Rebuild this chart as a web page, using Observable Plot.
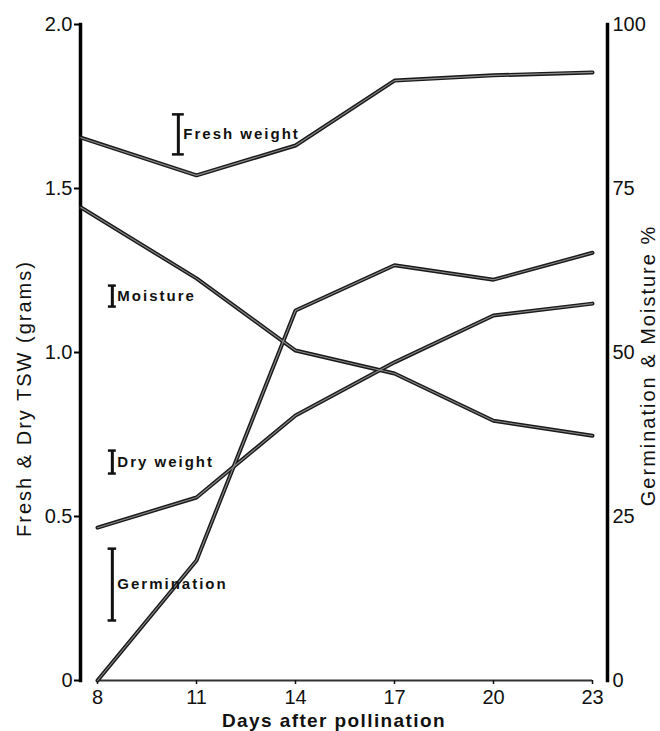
<!DOCTYPE html>
<html><head><meta charset="utf-8">
<script src="https://cdn.jsdelivr.net/npm/d3@7"></script>
<script src="https://cdn.jsdelivr.net/npm/@observablehq/plot@0.6"></script>
<style>
html,body{margin:0;padding:0;background:#fff;}
</style></head><body><div id="chart"></div>
<script>
// Days after pollination
const days = [8, 11, 14, 17, 20, 23];
// fresh weight & moisture lines start at the left axis
const earlyDays = [7.5, 11, 14, 17, 20, 23];
// grams (left axis)
const freshWeight = [1.655, 1.540, 1.631, 1.829, 1.845, 1.854];
const dryWeight = [0.466, 0.558, 0.808, 0.970, 1.113, 1.149];
// percent (right axis)
const moisture = [72.1, 61.3, 50.3, 46.8, 39.6, 37.3];
const germination = [0, 18.3, 56.4, 63.3, 61.1, 65.2];

const leftTicks = [0, 0.5, 1, 1.5, 2];
const leftTickLabels = ["0", "0.5", "1.0", "1.5", "2.0"];
const rightTickLabels = ["0", "25", "50", "75", "100"];
const xTicks = [8, 11, 14, 17, 20, 23];

// LSD-style bars with labels (in left-axis units)
const barLabels = ["Fresh weight", "Moisture", "Dry weight", "Germination"];
const barDays = [10.45, 8.45, 8.45, 8.45];
const barLow = [1.604, 1.140, 0.631, 0.183];
const barHigh = [1.726, 1.204, 0.701, 0.402];
const barHalf = [0.18, 0.12, 0.12, 0.13];

const gramsPerPct = 2 / 100;

const rows = [];
earlyDays.forEach((d, i) => rows.push({series: "Fresh weight", day: d, v: freshWeight[i]}));
earlyDays.forEach((d, i) => rows.push({series: "Moisture", day: d, v: moisture[i] * gramsPerPct}));
days.forEach((d, i) => rows.push({series: "Dry weight", day: d, v: dryWeight[i]}));
days.forEach((d, i) => rows.push({series: "Germination", day: d, v: germination[i] * gramsPerPct}));

const bars = barLabels.map((l, i) => ({label: l, day: barDays[i], lo: barLow[i], hi: barHigh[i], hw: barHalf[i]}));

const font = "'Liberation Sans', Arial, Helvetica, sans-serif";

const chart = Plot.plot({
  width: 660,
  height: 731,
  marginLeft: 80,
  marginRight: 53,
  marginTop: 24,
  marginBottom: 51,
  style: {fontFamily: font, background: "#fff", color: "#111"},
  x: {domain: [8, 23], range: [97, 592], axis: null},
  y: {domain: [0, 2], range: [680, 24], axis: null},
  marks: [
    Plot.frame({anchor: "left", stroke: "#000", strokeWidth: 3.5}),
    Plot.frame({anchor: "right", stroke: "#000", strokeWidth: 3.5}),
    Plot.ruleY([0], {x1: 8, x2: 23, stroke: "#333", strokeWidth: 2}),
    Plot.axisY(leftTicks, {anchor: "left", tickSize: 6, tickPadding: 2, fontSize: 20, stroke: "#000", strokeWidth: 2,
      tickFormat: d => leftTickLabels[leftTicks.indexOf(d)], label: null}),
    Plot.axisY(leftTicks, {anchor: "right", tickSize: 0, tickPadding: 5, fontSize: 20,
      tickFormat: d => rightTickLabels[leftTicks.indexOf(d)], label: null}),
    Plot.axisX(xTicks, {anchor: "bottom", tickSize: 4, tickPadding: 5, fontSize: 20, strokeWidth: 1.5,
      tickFormat: d => String(d), label: null}),
    Plot.line(rows, {x: "day", y: "v", z: "series", stroke: "#1a1a1a", strokeWidth: 4, strokeLinejoin: "miter"}),
    Plot.line(rows, {x: "day", y: "v", z: "series", stroke: "#8c8c8c", strokeWidth: 1.1}),
    Plot.ruleX(bars, {x: "day", y1: "lo", y2: "hi", stroke: "#111", strokeWidth: 3}),
    Plot.ruleY(bars, {y: "lo", x1: d => d.day - d.hw, x2: d => d.day + d.hw, stroke: "#111", strokeWidth: 2.5}),
    Plot.ruleY(bars, {y: "hi", x1: d => d.day - d.hw, x2: d => d.day + d.hw, stroke: "#111", strokeWidth: 2.5}),
    Plot.text(bars, {x: "day", y: d => (d.lo + d.hi) / 2, text: "label", textAnchor: "start", dx: 5,
      fontSize: 15, fontWeight: "bold", fill: "#111"}),
    Plot.text(["Days after pollination"], {frameAnchor: "bottom", dy: 40, dx: -10, lineAnchor: "middle", textAnchor: "middle",
      fontSize: 19, fontWeight: "bold", fill: "#111"}),
    Plot.text(["Fresh & Dry TSW (grams)"], {frameAnchor: "left", rotate: -90, dx: -56, dy: 46, lineAnchor: "middle", textAnchor: "middle",
      fontSize: 20, fill: "#111"}),
    Plot.text(["Germination & Moisture %"], {frameAnchor: "right", rotate: -90, dx: 41, dy: 13, lineAnchor: "middle", textAnchor: "middle",
      fontSize: 20, fill: "#111"})
  ]
});

// letter spacing tweaks to match the typeset original
d3.select(chart).selectAll("text").each(function() {
  const t = this.textContent;
  if (barLabels.includes(t)) this.style.letterSpacing = "2px";
  else if (t === "Days after pollination") this.style.letterSpacing = "1.4px";
  else if (t === "Fresh & Dry TSW (grams)" || t === "Germination & Moisture %") this.style.letterSpacing = "2px";
});

document.getElementById("chart").appendChild(chart);
</script>
</body></html>
